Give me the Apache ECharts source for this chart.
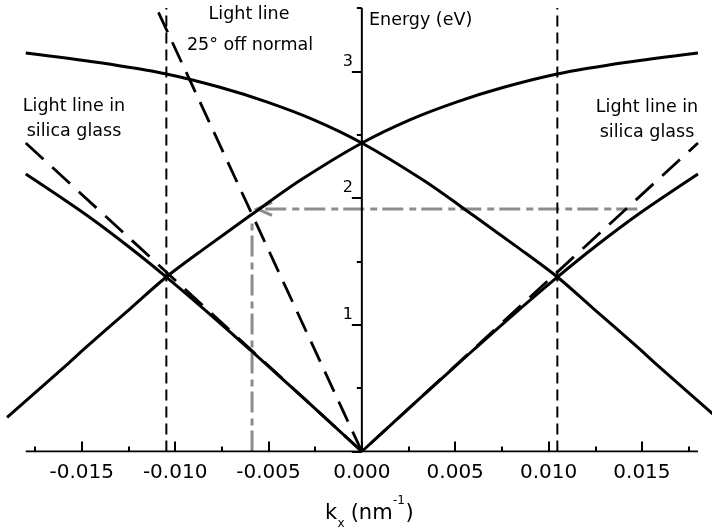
<!DOCTYPE html>
<html>
<head>
<meta charset="utf-8">
<script src="https://cdn.jsdelivr.net/npm/echarts@6/dist/echarts.min.js"></script>
<style>
  html, body { margin: 0; padding: 0; background: #fff; }
  #chart { width: 712px; height: 531px; }
</style>
</head>
<body>
<div id="chart"></div>
<script>
// Surface plasmon dispersion, folded by the grating vector (k in nm^-1, E in eV)

// SPP branch through the origin (left and right halves)
const sppLeftK  = [-0.0180, -0.0149, -0.0125, -0.01047, -0.0085, -0.0060, -0.0030, 0];
const sppLeftE  = [2.19, 1.882, 1.618, 1.377, 1.13, 0.805, 0.405, 0];
const sppRightK = [0, 0.0030, 0.0060, 0.0085, 0.01047, 0.0125, 0.0149, 0.0180];
const sppRightE = [0, 0.405, 0.805, 1.13, 1.377, 1.618, 1.882, 2.19];

// Branch folded back from the left zone boundary (rising to the right)
const riseK = [-0.0190, -0.0157, -0.0149, -0.0124, -0.01047, -0.0084, -0.0060, -0.0033, 0, 0.0026, 0.0051, 0.0076, 0.01047, 0.0141, 0.0180];
const riseE = [0.27, 0.698, 0.806, 1.128, 1.377, 1.605, 1.86, 2.14, 2.435, 2.62, 2.76, 2.875, 2.98, 3.07, 3.145];

// Branch folded back from the right zone boundary (falling to the right)
const fallK = [-0.0180, -0.0141, -0.01047, -0.0076, -0.0051, -0.0026, 0, 0.0033, 0.0060, 0.0084, 0.01047, 0.0124, 0.0149, 0.0157, 0.0190];
const fallE = [3.145, 3.07, 2.98, 2.875, 2.76, 2.62, 2.435, 2.14, 1.86, 1.605, 1.377, 1.128, 0.806, 0.698, 0.27];

// Light line in silica glass
const glassK = [-0.018, 0, 0.018];
const glassE = [2.435, 0, 2.435];

// Light line 25 degrees off normal
const offNormalK = [0, -0.0110];
const offNormalE = [0, 3.5];

// Zone boundaries (+/- G/2)
const boundaryK = [-0.01047, 0.01047];
const boundaryE = [0, 3.5];

// Read-out guide: excitation energy at the 25 degree crossing
const guideVK = [-0.00588, -0.00588];
const guideVE = [0, 1.80];
const guideHK = [0.01475, -0.00561];
const guideHE = [1.914, 1.914];

// Axis extents drawn as lines
const axisXK = [-0.018, 0.018];
const axisYE = [0, 3.5];

// Energy tick labels
const energyTicks = [1, 2, 3];

const FONT = '"DejaVu Sans", Verdana, sans-serif';

function pairs(xs, ys) { return xs.map((x, i) => [x, ys[i]]); }

function curve(xs, ys) {
  return {
    type: 'line', data: pairs(xs, ys), symbol: 'none', smooth: 0.3,
    lineStyle: { color: '#000', width: 3 }, z: 5, silent: true
  };
}
function straight(data, style, z) {
  return { type: 'line', data: data, symbol: 'none', lineStyle: style, z: z || 4, silent: true };
}

const chart = echarts.init(document.getElementById('chart'), null, { renderer: 'canvas' });

chart.setOption({
  animation: false,
  backgroundColor: '#fff',
  grid: { left: -11.6, right: -23.3, top: -55.3, bottom: 79.5, containLabel: false, outerBoundsMode: 'none' },
  xAxis: {
    type: 'value', min: -0.02, max: 0.02, interval: 0.005,
    axisLine: { show: false, onZero: true },
    axisTick: { show: true, inside: true, length: 10, lineStyle: { color: '#000', width: 2 } },
    minorTick: { show: true, splitNumber: 2, length: 5, lineStyle: { color: '#000', width: 2 } },
    splitLine: { show: false },
    axisLabel: {
      margin: 11, fontSize: 20, fontFamily: FONT, color: '#000',
      formatter: v => (Math.abs(v) > 0.0185 ? '' : v.toFixed(3))
    }
  },
  yAxis: {
    type: 'value', min: 0, max: 4, interval: 1,
    axisLine: { show: false, onZero: true },
    axisTick: { show: true, length: 10, lineStyle: { color: '#000', width: 2 } },
    minorTick: { show: true, splitNumber: 2, length: 5, lineStyle: { color: '#000', width: 2 } },
    splitLine: { show: false },
    axisLabel: { show: false }
  },
  series: [
    // axes
    straight(pairs(axisXK, [0, 0]), { color: '#000', width: 2 }, 6),
    straight(pairs([0, 0], axisYE), { color: '#000', width: 2 }, 6),
    // energy tick labels, set just above-left of each tick
    {
      type: 'custom', z: 6, silent: true,
      data: energyTicks.map(e => [0, e]),
      renderItem: function (params, api) {
        const p = api.coord([api.value(0), api.value(1)]);
        return {
          type: 'text',
          style: {
            text: String(api.value(1)), x: p[0] - 9, y: p[1] - 10,
            font: '16px ' + FONT, fill: '#000', align: 'right', verticalAlign: 'middle'
          }
        };
      }
    },
    // zone boundaries
    straight(pairs([boundaryK[0], boundaryK[0]], boundaryE), { color: '#000', width: 2, type: [11, 6] }),
    straight(pairs([boundaryK[1], boundaryK[1]], boundaryE), { color: '#000', width: 2, type: [11, 6] }),
    // light lines
    straight(pairs(glassK, glassE), { color: '#000', width: 2.8, type: [24, 12] }),
    straight(pairs(offNormalK, offNormalE), { color: '#000', width: 2.8, type: [22, 11] }),
    // guide lines
    straight(pairs(guideVK, guideVE), { color: '#8c8c8c', width: 3, type: [21, 5, 7, 6] }, 3),
    straight(pairs(guideHK, guideHE), { color: '#8c8c8c', width: 3, type: [21, 5, 7, 6] }, 3),
    {
      type: 'custom', z: 3, silent: true,
      data: [[guideHK[1], guideHE[1]]],
      renderItem: function (params, api) {
        const p = api.coord([api.value(0), api.value(1)]);
        return {
          type: 'polyline',
          shape: { points: [[p[0] + 15, p[1] - 6.5], [p[0], p[1]], [p[0] + 15, p[1] + 6.5]] },
          style: { stroke: '#8c8c8c', lineWidth: 3, fill: null }
        };
      }
    },
    // dispersion branches
    curve(sppLeftK, sppLeftE),
    curve(sppRightK, sppRightE),
    curve(riseK, riseE),
    curve(fallK, fallE)
  ],
  graphic: [
    { type: 'text', z: 10, style: { text: 'Energy (eV)', x: 369, y: 20, font: '17.5px ' + FONT, fill: '#000', align: 'left', verticalAlign: 'middle' } },
    { type: 'text', z: 10, style: { text: 'Light line', x: 249, y: 14.5, font: '17.5px ' + FONT, fill: '#000', align: 'center', verticalAlign: 'middle' } },
    { type: 'text', z: 10, style: { text: '25° off normal', x: 250, y: 45, font: '17.5px ' + FONT, fill: '#000', align: 'center', verticalAlign: 'middle' } },
    { type: 'text', z: 10, style: { text: 'Light line in', x: 74, y: 106, font: '17.5px ' + FONT, fill: '#000', align: 'center', verticalAlign: 'middle' } },
    { type: 'text', z: 10, style: { text: 'silica glass', x: 74, y: 131, font: '17.5px ' + FONT, fill: '#000', align: 'center', verticalAlign: 'middle' } },
    { type: 'text', z: 10, style: { text: 'Light line in', x: 647, y: 107, font: '17.5px ' + FONT, fill: '#000', align: 'center', verticalAlign: 'middle' } },
    { type: 'text', z: 10, style: { text: 'silica glass', x: 647, y: 132, font: '17.5px ' + FONT, fill: '#000', align: 'center', verticalAlign: 'middle' } },
    // x-axis title: k_x (nm^-1)
    { type: 'text', z: 10, style: { text: 'k', x: 325, y: 513.7, font: '21px ' + FONT, fill: '#000', align: 'left', verticalAlign: 'middle' } },
    { type: 'text', z: 10, style: { text: 'x', x: 337.5, y: 523.8, font: '12px ' + FONT, fill: '#000', align: 'left', verticalAlign: 'middle' } },
    { type: 'text', z: 10, style: { text: ' (nm', x: 344, y: 513.7, font: '21px ' + FONT, fill: '#000', align: 'left', verticalAlign: 'middle' } },
    { type: 'text', z: 10, style: { text: '-1', x: 393, y: 500.8, font: '12px ' + FONT, fill: '#000', align: 'left', verticalAlign: 'middle' } },
    { type: 'text', z: 10, style: { text: ')', x: 405.5, y: 513.7, font: '21px ' + FONT, fill: '#000', align: 'left', verticalAlign: 'middle' } }
  ]
});
</script>
</body>
</html>
